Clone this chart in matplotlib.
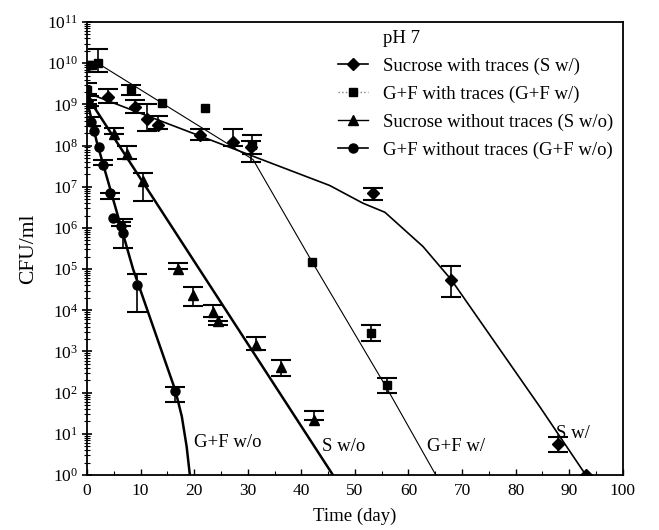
import numpy as np
import matplotlib
matplotlib.use("Agg")
import matplotlib.pyplot as plt
from matplotlib.lines import Line2D
from matplotlib.ticker import LogLocator, MultipleLocator, NullFormatter

plt.rcParams["font.family"] = ["Liberation Serif", "DejaVu Serif"]
plt.rcParams["mathtext.fontset"] = "stix"

# ---------------------------------------------------------------
# Survival data, pH 7 (CFU/ml), with error bar limits
# ---------------------------------------------------------------
# Sucrose with traces (S w/)
sw_day = [0, 3.9, 9, 11.2, 13.2, 21.1, 27.3, 30.6, 53.3, 68.0, 87.9, 93.1]
sw_cfu = [1.2e9, 1.5e9, 8.5e8, 4.3e8, 3.2e8, 1.8e8, 1.2e8, 9e7, 7e6, 5.5e4, 5.5, 1.0]
sw_hi = [1.6e9, 2.3e9, 1.3e9, 1.0e9, 5.1e8, 2.5e8, 2.5e8, 1.3e8, 9.3e6, 1.2e5, 8.3, 1.0]
sw_lo = [1.0e9, 1.1e9, 6.3e8, 2.2e8, 2.5e8, 1.35e8, 9.5e7, 4e7, 4.8e6, 2.1e4, 3.7, 1.0]

# G+F with traces (G+F w/)
gfw_day = [0, 0.3, 1, 2, 8.3, 14, 22.1, 30.8, 42, 53.1, 56]
gfw_cfu = [2.2e9, 9e9, 9e9, 1.0e10, 2.3e9, 1.1e9, 8.3e8, 1.05e8, 1.45e5, 2.8e3, 1.55e2]
gfw_hi = [3.3e9, 9e9, 9e9, 2.2e10, 3.0e9, 1.1e9, 8.3e8, 1.8e8, 1.45e5, 4.4e3, 2.3e2]
gfw_lo = [1.8e9, 9e9, 9e9, 6e9, 1.7e9, 1.1e9, 8.3e8, 6.3e7, 1.45e5, 1.8e3, 1.0e2]

# Sucrose without traces (S w/o)
swo_day = [0.3, 5.1, 7.4, 10.5, 17, 19.7, 23.6, 24.5, 31.5, 36.3, 42.4]
swo_cfu = [1.2e9, 1.95e8, 6.3e7, 1.35e7, 1.0e5, 2.3e4, 9.3e3, 5.6e3, 1.45e3, 4.2e2, 22]
swo_hi = [1.6e9, 2.7e8, 9.5e7, 2.2e7, 1.4e5, 3.6e4, 1.35e4, 5.6e3, 2.2e3, 6.3e2, 36]
swo_lo = [9e8, 1.95e8, 4.6e7, 4.4e6, 1.0e5, 1.3e4, 7e3, 4.5e3, 1.1e3, 2.6e2, 22]

# G+F without traces (G+F w/o)
gfwo_day = [0, 0.7, 1.3, 2.2, 2.9, 4.3, 4.9, 6.3, 6.7, 9.4, 16.5]
gfwo_cfu = [1.0e9, 3.8e8, 2.2e8, 9e7, 3.3e7, 7e6, 1.7e6, 1.1e6, 7.4e5, 4.2e4, 1.1e2]
gfwo_hi = [1.3e9, 4.8e8, 2.2e8, 9e7, 4.5e7, 7e6, 1.7e6, 1.4e6, 1.6e6, 7.8e4, 1.4e2]
gfwo_lo = [8e8, 3e8, 2.2e8, 9e7, 3.3e7, 5e6, 1.7e6, 1.1e6, 3.2e5, 9.3e3, 6e1]

# Model curves (log10 CFU/ml)
sw_fit_day = [0, 45.3, 51.5, 55.6, 62.7, 68, 84.5, 93.1]
sw_fit_log = [9.28, 7.03, 6.6, 6.38, 5.55, 4.74, 1.66, 0]
gfw_fit_day = [2, 31, 42, 56, 65.1]
gfw_fit_log = [10.0, 7.66, 5.18, 2.1, 0]
swo_fit_day = [0.5, 45.9]
swo_fit_log = [9.1, 0]
gfwo_fit_day = [0, 1.8, 8.6, 16.5, 17.7, 18.6, 19.2]
gfwo_fit_log = [9.1, 8.1, 5.0, 2.05, 1.42, 0.69, 0]

curve_labels = ["G+F w/o", "S w/o", "G+F w/", "S w/"]
curve_label_day = [20, 43.8, 63.4, 87.6]
curve_label_log = [0.78, 0.69, 0.69, 1.01]

fig = plt.figure(figsize=(6.59, 5.30), dpi=100)
ax = fig.add_axes([0.132, 0.1038, 0.813, 0.8547])


def plot_series(day, cfu, lo, hi, marker, ms):
    day = np.array(day)
    cfu = np.array(cfu)
    lo = np.array(lo)
    hi = np.array(hi)
    ax.plot(day, cfu, marker, ms=ms, color="black", zorder=3)
    # only points that actually carry an error bar
    has_err = (hi > cfu) | (lo < cfu)
    yerr = [cfu[has_err] - lo[has_err], hi[has_err] - cfu[has_err]]
    ax.errorbar(day[has_err], cfu[has_err], yerr=yerr, fmt="none",
                ecolor="black", elinewidth=1.2, capsize=7, capthick=1.5,
                zorder=3)


def plot_fit(day, logv, lw):
    ax.plot(day, 10 ** np.array(logv), color="black", lw=lw, zorder=2)


plot_fit(sw_fit_day, sw_fit_log, 1.2)
plot_fit(gfw_fit_day, gfw_fit_log, 0.8)
plot_fit(swo_fit_day, swo_fit_log, 1.8)
plot_fit(gfwo_fit_day, gfwo_fit_log, 1.8)

plot_series(sw_day, sw_cfu, sw_lo, sw_hi, "D", 6.5)
plot_series(gfw_day, gfw_cfu, gfw_lo, gfw_hi, "s", 6)
plot_series(swo_day, swo_cfu, swo_lo, swo_hi, "^", 7.5)
plot_series(gfwo_day, gfwo_cfu, gfwo_lo, gfwo_hi, "o", 6.5)

for txt, d, lv in zip(curve_labels, curve_label_day, curve_label_log):
    ax.text(d, 10 ** lv, txt, fontsize=13.5, ha="left", va="center")

ax.set_yscale("log")
ax.set_xlim(0, 100)
ax.set_ylim(1, 1e11)
ax.xaxis.set_major_locator(MultipleLocator(10))
ax.xaxis.set_minor_locator(MultipleLocator(5))
ax.yaxis.set_major_locator(LogLocator(base=10, numticks=15))
ax.yaxis.set_minor_locator(LogLocator(base=10, subs=np.arange(2, 10), numticks=15))
ax.yaxis.set_minor_formatter(NullFormatter())
ax.tick_params(axis="y", which="major", direction="inout", length=7, width=1.2,
               labelsize=12.5, pad=3)
ax.tick_params(axis="y", which="minor", direction="inout", length=4, width=0.8)
ax.tick_params(axis="x", which="major", direction="in", length=4, width=1,
               labelsize=12.5, pad=6)
ax.tick_params(axis="x", which="minor", direction="in", length=3, width=0.8)
for s in ax.spines.values():
    s.set_linewidth(1.3)

ax.set_xlabel("Time (day)", fontsize=13.5, labelpad=6)
ax.set_ylabel("CFU/ml", fontsize=15.5, labelpad=6)

handles = [
    Line2D([], [], linestyle="none", label="pH 7"),
    Line2D([], [], color="black", lw=1.2, marker="D", ms=6.5,
           label="Sucrose with traces (S w/)"),
    Line2D([], [], color="gray", lw=1.0, ls=":", marker="s", ms=6,
           mfc="black", mec="black", label="G+F with traces (G+F w/)"),
    Line2D([], [], color="black", lw=1.0, marker="^", ms=7.5,
           label="Sucrose without traces (S w/o)"),
    Line2D([], [], color="black", lw=1.2, marker="o", ms=6.5,
           label="G+F without traces (G+F w/o)"),
]
ax.legend(handles=handles, loc="upper left", bbox_to_anchor=(0.468, 0.982),
          frameon=False, fontsize=13.5, handlelength=1.6, handletextpad=0.8,
          labelspacing=0.56, borderpad=0, borderaxespad=0)

fig.savefig("out.png", dpi=100)
